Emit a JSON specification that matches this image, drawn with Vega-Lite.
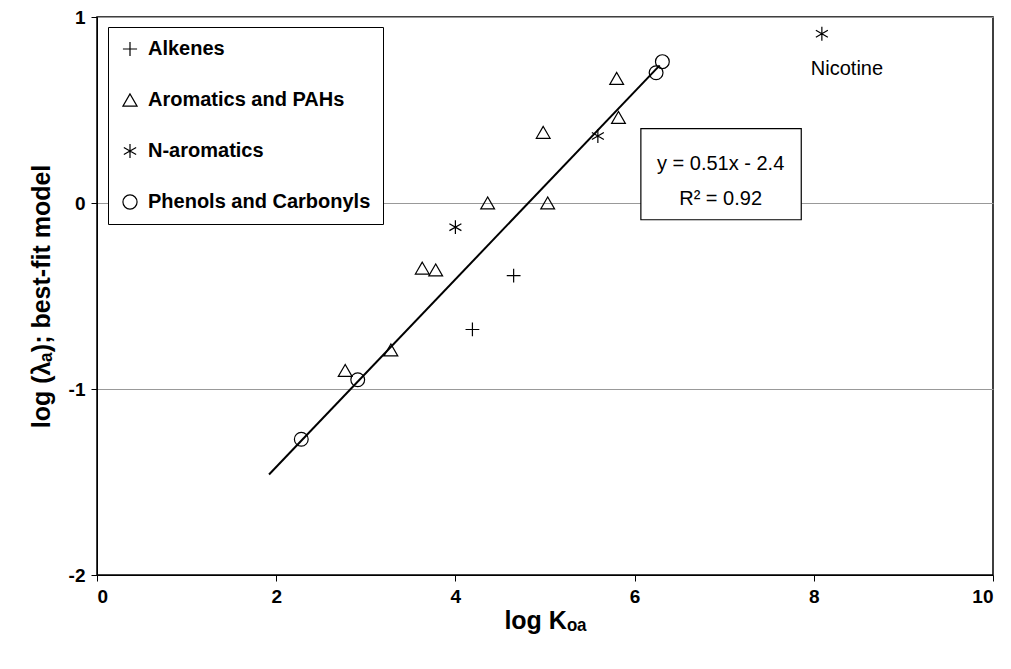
{
  "$schema": "https://vega.github.io/schema/vega-lite/v6.json",
  "width": 896,
  "height": 558,
  "autosize": "none",
  "padding": {"left": 97, "top": 17, "right": 18, "bottom": 94},
  "background": "white",
  "config": {
    "font": "Liberation Sans",
    "view": {"stroke": "black", "strokeWidth": 1.5},
    "axis": {"labelFont": "Liberation Sans", "labelFontWeight": "bold", "labelFontSize": 19, "labelColor": "black", "format": "d",
      "labelExpr": "replace(datum.label, '\u2212', '-')",
      "titleFont": "Liberation Sans", "titleFontWeight": "bold", "titleFontSize": 25, "titleColor": "black",
      "domainColor": "black", "tickColor": "black", "tickSize": 6, "labelPadding": 6}
  },
  "datasets": {
    "pts": [
      {"x": 4.19, "y": -0.68, "g": "Alkenes"},
      {"x": 4.65, "y": -0.39, "g": "Alkenes"},
      {"x": 2.77, "y": -0.90, "g": "Aromatics and PAHs"},
      {"x": 3.28, "y": -0.79, "g": "Aromatics and PAHs"},
      {"x": 3.63, "y": -0.35, "g": "Aromatics and PAHs"},
      {"x": 3.78, "y": -0.36, "g": "Aromatics and PAHs"},
      {"x": 4.36, "y": 0.0, "g": "Aromatics and PAHs"},
      {"x": 4.98, "y": 0.38, "g": "Aromatics and PAHs"},
      {"x": 5.03, "y": 0.0, "g": "Aromatics and PAHs"},
      {"x": 5.80, "y": 0.67, "g": "Aromatics and PAHs"},
      {"x": 5.82, "y": 0.46, "g": "Aromatics and PAHs"},
      {"x": 4.0, "y": -0.13, "g": "N-aromatics"},
      {"x": 5.59, "y": 0.36, "g": "N-aromatics"},
      {"x": 8.09, "y": 0.91, "g": "N-aromatics"},
      {"x": 2.28, "y": -1.27, "g": "Phenols and Carbonyls"},
      {"x": 2.91, "y": -0.95, "g": "Phenols and Carbonyls"},
      {"x": 6.24, "y": 0.70, "g": "Phenols and Carbonyls"},
      {"x": 6.31, "y": 0.76, "g": "Phenols and Carbonyls"}
    ],
    "fit": [{"x": 1.92, "y": -1.46}, {"x": 6.28, "y": 0.74}]
  },
  "layer": [
    {
      "data": {"name": "fit"},
      "mark": {"type": "line", "color": "black", "strokeWidth": 2},
      "encoding": {
        "x": {"field": "x", "type": "quantitative", "scale": {"domain": [0, 10]},
          "axis": {"values": [0, 2, 4, 6, 8, 10], "grid": false, "title": "log Kₒₐ", "titlePadding": 2}},
        "y": {"field": "y", "type": "quantitative", "scale": {"domain": [-2, 1]},
          "axis": {"values": [-2, -1, 0, 1], "grid": true, "gridColor": "#999999", "gridWidth": 1, "title": "log (λₐ); best-fit model", "titlePadding": 14}}
      }
    },
    {
      "data": {"name": "pts"},
      "mark": {"type": "point", "filled": false, "stroke": "black", "strokeWidth": 1.2, "size": 190, "opacity": 1},
      "encoding": {
        "x": {"field": "x", "type": "quantitative"},
        "y": {"field": "y", "type": "quantitative"},
        "shape": {"field": "g", "type": "nominal",
          "scale": {"domain": ["Alkenes", "Aromatics and PAHs", "N-aromatics", "Phenols and Carbonyls"],
            "range": ["M-1,0L1,0M0,-1L0,1", "triangle-up", "M0,-1L0,1M-0.87,-0.5L0.87,0.5M-0.87,0.5L0.87,-0.5", "circle"]},
          "legend": {"title": null, "orient": "none", "legendX": 11, "legendY": 10, "labelFontSize": 20, "labelFontWeight": "bold",
            "labelFont": "Liberation Sans", "labelColor": "black", "labelLimit": 400, "symbolSize": 200, "symbolStrokeColor": "black", "symbolStrokeWidth": 1.2,
            "rowPadding": 31, "strokeColor": "black", "padding": 12, "fillColor": "white", "symbolOffset": 0, "labelOffset": 8}}
      }
    },
    {
      "data": {"values": [{"x1": 6.07, "x2": 7.86, "y1": 0.40, "y2": -0.09}]},
      "mark": {"type": "rect", "fill": "white", "stroke": "black", "strokeWidth": 1.2},
      "encoding": {
        "x": {"field": "x1", "type": "quantitative"}, "x2": {"field": "x2"},
        "y": {"field": "y1", "type": "quantitative"}, "y2": {"field": "y2"}
      }
    },
    {
      "data": {"values": [{"x": 6.96, "y": 0.21, "t": "y = 0.51x - 2.4"}, {"x": 6.96, "y": 0.02, "t": "R² = 0.92"}, {"x": 8.37, "y": 0.72, "t": "Nicotine"}]},
      "mark": {"type": "text", "fontSize": 20, "color": "black", "font": "Liberation Sans"},
      "encoding": {
        "x": {"field": "x", "type": "quantitative"},
        "y": {"field": "y", "type": "quantitative"},
        "text": {"field": "t"}
      }
    }
  ]
}
